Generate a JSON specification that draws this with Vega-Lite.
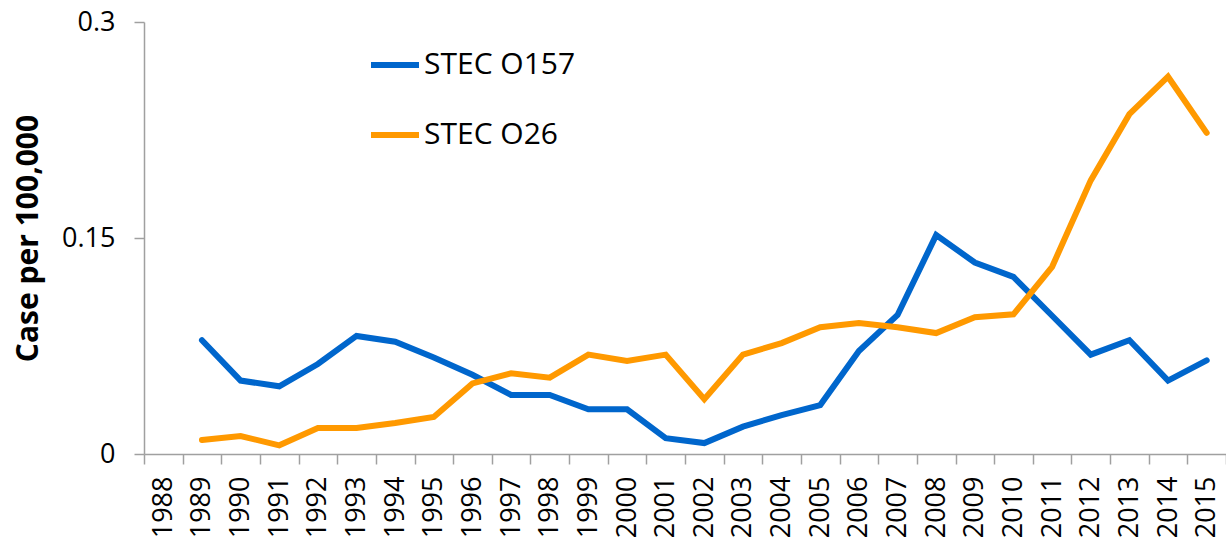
{
  "$schema": "https://vega.github.io/schema/vega-lite/v6.json",
  "width": 1082,
  "height": 432,
  "autosize": "none",
  "padding": {"left": 144, "top": 22, "right": 0, "bottom": 86},
  "background": "white",
  "config": {"view": {"stroke": null}, "font": "Open Sans"},
  "datasets": {
    "rates": [
      {"year": "1988", "series": "STEC O157", "value": null},
      {"year": "1988", "series": "STEC O26", "value": null},
      {"year": "1989", "series": "STEC O157", "value": 0.079},
      {"year": "1990", "series": "STEC O157", "value": 0.051},
      {"year": "1991", "series": "STEC O157", "value": 0.047},
      {"year": "1992", "series": "STEC O157", "value": 0.0625},
      {"year": "1993", "series": "STEC O157", "value": 0.082},
      {"year": "1994", "series": "STEC O157", "value": 0.078},
      {"year": "1995", "series": "STEC O157", "value": 0.067},
      {"year": "1996", "series": "STEC O157", "value": 0.055},
      {"year": "1997", "series": "STEC O157", "value": 0.041},
      {"year": "1998", "series": "STEC O157", "value": 0.041},
      {"year": "1999", "series": "STEC O157", "value": 0.031},
      {"year": "2000", "series": "STEC O157", "value": 0.031},
      {"year": "2001", "series": "STEC O157", "value": 0.011},
      {"year": "2002", "series": "STEC O157", "value": 0.0076},
      {"year": "2003", "series": "STEC O157", "value": 0.019},
      {"year": "2004", "series": "STEC O157", "value": 0.027},
      {"year": "2005", "series": "STEC O157", "value": 0.034},
      {"year": "2006", "series": "STEC O157", "value": 0.0715},
      {"year": "2007", "series": "STEC O157", "value": 0.0965},
      {"year": "2008", "series": "STEC O157", "value": 0.152},
      {"year": "2009", "series": "STEC O157", "value": 0.133},
      {"year": "2010", "series": "STEC O157", "value": 0.123},
      {"year": "2011", "series": "STEC O157", "value": 0.096},
      {"year": "2012", "series": "STEC O157", "value": 0.069},
      {"year": "2013", "series": "STEC O157", "value": 0.079},
      {"year": "2014", "series": "STEC O157", "value": 0.051},
      {"year": "2015", "series": "STEC O157", "value": 0.065},
      {"year": "1989", "series": "STEC O26", "value": 0.0097},
      {"year": "1990", "series": "STEC O26", "value": 0.0125},
      {"year": "1991", "series": "STEC O26", "value": 0.006},
      {"year": "1992", "series": "STEC O26", "value": 0.018},
      {"year": "1993", "series": "STEC O26", "value": 0.018},
      {"year": "1994", "series": "STEC O26", "value": 0.0215},
      {"year": "1995", "series": "STEC O26", "value": 0.0257},
      {"year": "1996", "series": "STEC O26", "value": 0.049},
      {"year": "1997", "series": "STEC O26", "value": 0.056},
      {"year": "1998", "series": "STEC O26", "value": 0.053},
      {"year": "1999", "series": "STEC O26", "value": 0.069},
      {"year": "2000", "series": "STEC O26", "value": 0.0646},
      {"year": "2001", "series": "STEC O26", "value": 0.069},
      {"year": "2002", "series": "STEC O26", "value": 0.038},
      {"year": "2003", "series": "STEC O26", "value": 0.069},
      {"year": "2004", "series": "STEC O26", "value": 0.077},
      {"year": "2005", "series": "STEC O26", "value": 0.088},
      {"year": "2006", "series": "STEC O26", "value": 0.091},
      {"year": "2007", "series": "STEC O26", "value": 0.088},
      {"year": "2008", "series": "STEC O26", "value": 0.084},
      {"year": "2009", "series": "STEC O26", "value": 0.095},
      {"year": "2010", "series": "STEC O26", "value": 0.097},
      {"year": "2011", "series": "STEC O26", "value": 0.13},
      {"year": "2012", "series": "STEC O26", "value": 0.19},
      {"year": "2013", "series": "STEC O26", "value": 0.236},
      {"year": "2014", "series": "STEC O26", "value": 0.262},
      {"year": "2015", "series": "STEC O26", "value": 0.223}
    ]
  },
  "data": {"name": "rates"},
  "mark": {"type": "line", "strokeWidth": 6, "strokeCap": "round", "strokeJoin": "miter"},
  "encoding": {
    "x": {
      "field": "year",
      "type": "ordinal",
      "bandPosition": 0.5,
      "scale": {"type": "band", "paddingInner": 0, "paddingOuter": 0},
      "axis": {
        "title": null,
        "tickBand": "extent",
        "labelAngle": -90,
        "labelAlign": "right",
        "labelBaseline": "middle",
        "labelFontSize": 27,
        "labelColor": "#000000",
        "labelPadding": 12,
        "labelFont": "Open Sans",
        "tickSize": 10,
        "tickColor": "#a0a0a0",
        "domainColor": "#a0a0a0",
        "domainWidth": 1.5,
        "tickWidth": 1.5,
        "grid": false
      }
    },
    "y": {
      "field": "value",
      "type": "quantitative",
      "scale": {"domain": [0, 0.3], "nice": false},
      "axis": {
        "title": "Case per 100,000",
        "titleFontSize": 30,
        "titleFontWeight": "bold",
        "titleColor": "#000000",
        "titleFont": "Open Sans",
        "titleX": -116,
        "titleY": 216,
        "titleAngle": -90,
        "titleAlign": "center",
        "titleBaseline": "middle",
        "values": [0, 0.15, 0.3],
        "format": ".2~f",
        "labelFontSize": 27,
        "labelColor": "#000000",
        "labelFont": "Open Sans",
        "labelPadding": 19,
        "tickSize": 10,
        "tickColor": "#a0a0a0",
        "domainColor": "#a0a0a0",
        "domainWidth": 1.5,
        "tickWidth": 1.5,
        "grid": false
      }
    },
    "color": {
      "field": "series",
      "type": "nominal",
      "scale": {"domain": ["STEC O157", "STEC O26"], "range": ["#0066CC", "#FF9900"]},
      "legend": {
        "title": null,
        "orient": "none",
        "legendX": 224,
        "legendY": 16,
        "symbolType": "stroke",
        "symbolSize": 2304,
        "symbolStrokeWidth": 6,
        "labelFontSize": 30,
        "labelFont": "Open Sans",
        "labelColor": "#000000",
        "labelOffset": 2,
        "rowPadding": 28
      }
    }
  }
}
